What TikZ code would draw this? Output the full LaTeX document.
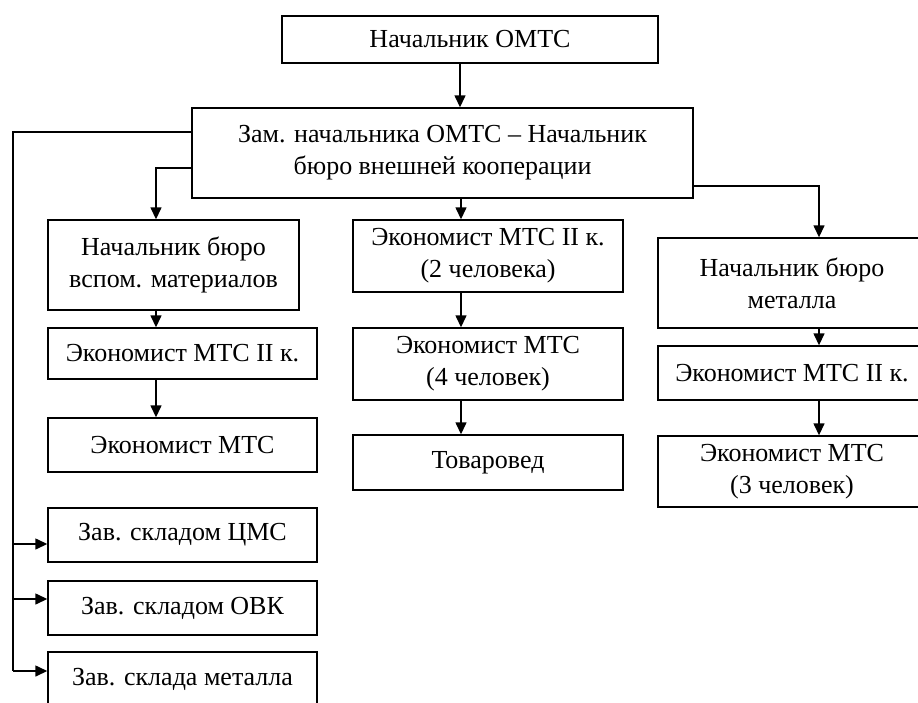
\documentclass[tikz,border=0pt]{standalone}
\usepackage{fontspec}
\setmainfont{Liberation Serif}
\usetikzlibrary{arrows.meta}
\tikzset{
  x=1pt, y=-1pt,
  orgbox/.style={draw, line width=1.4pt, inner sep=0pt, align=center,
    font=\fontsize{26}{32}\selectfont},
  arr/.style={line width=1.4pt, -{Triangle[length=12pt,width=11pt]}},
  ln/.style={line width=1.4pt}
}
\begin{document}
\begin{tikzpicture}
\useasboundingbox (0,0) rectangle (918,702);
\clip (0,0) rectangle (918,702);
\node[orgbox, minimum width=376pt, minimum height=47pt] (top) at (470,39.5) {Начальник ОМТС};
\node[orgbox, minimum width=501pt, minimum height=90pt] (zam) at (442.5,153) {Зам. начальника ОМТС – Начальник\\бюро внешней кооперации};
\node[orgbox, minimum width=251pt, minimum height=90pt] (nbv) at (173.5,265) {Начальник бюро\\вспом. материалов};
\node[orgbox, minimum width=269pt, minimum height=51pt] (e1L) at (182.5,353.5) {Экономист МТС II к.};
\node[orgbox, minimum width=269pt, minimum height=54pt] (e2L) at (182.5,445) {Экономист МТС};
\node[orgbox, minimum width=269pt, minimum height=54pt] (z1) at (182.5,535) {Зав. складом ЦМС};
\node[orgbox, minimum width=269pt, minimum height=54pt] (z2) at (182.5,608) {Зав. складом ОВК};
\node[orgbox, minimum width=269pt, minimum height=54pt] (z3) at (182.5,679) {Зав. склада металла};
\node[orgbox, minimum width=270pt, minimum height=72pt] (m1) at (488,256) {Экономист МТС II к.\\(2 человека)};
\node[orgbox, minimum width=270pt, minimum height=72pt] (m2) at (488,364) {Экономист МТС\\(4 человек)};
\node[orgbox, minimum width=270pt, minimum height=55pt] (m3) at (488,462.5) {Товаровед};
\node[orgbox, minimum width=268pt, minimum height=90pt] (r1) at (792,283) {Начальник бюро\\металла};
\node[orgbox, minimum width=268pt, minimum height=54pt] (r2) at (792,373) {Экономист МТС II к.};
\node[orgbox, minimum width=268pt, minimum height=71pt] (r3) at (792,471.5) {Экономист МТС\\(3 человек)};
\coordinate (cx) at (460,0);
\coordinate (mx) at (461,0);
\coordinate (lx) at (156,0);
\coordinate (rx) at (819,0);
\coordinate (bus) at (13,132);
\coordinate (busend) at (13,671);
\draw[arr] (top.south -| cx) -- (zam.north -| cx);
\draw[ln] (zam.west |- bus) -- (bus) -- (busend);
\draw[arr] (13,544) -- (z1.west |- 0,544);
\draw[arr] (13,599) -- (z2.west |- 0,599);
\draw[arr] (busend) -- (z3.west |- busend);
\draw[arr] (zam.west |- 0,168) -| (nbv.north -| lx);
\draw[arr] (zam.south -| mx) -- (m1.north -| mx);
\draw[arr] (zam.east |- 0,186) -| (r1.north -| rx);
\draw[arr] (nbv.south -| lx) -- (e1L.north -| lx);
\draw[arr] (e1L.south -| lx) -- (e2L.north -| lx);
\draw[arr] (m1.south -| mx) -- (m2.north -| mx);
\draw[arr] (m2.south -| mx) -- (m3.north -| mx);
\draw[arr] (r1.south -| rx) -- (r2.north -| rx);
\draw[arr] (r2.south -| rx) -- (r3.north -| rx);
\end{tikzpicture}
\end{document}
